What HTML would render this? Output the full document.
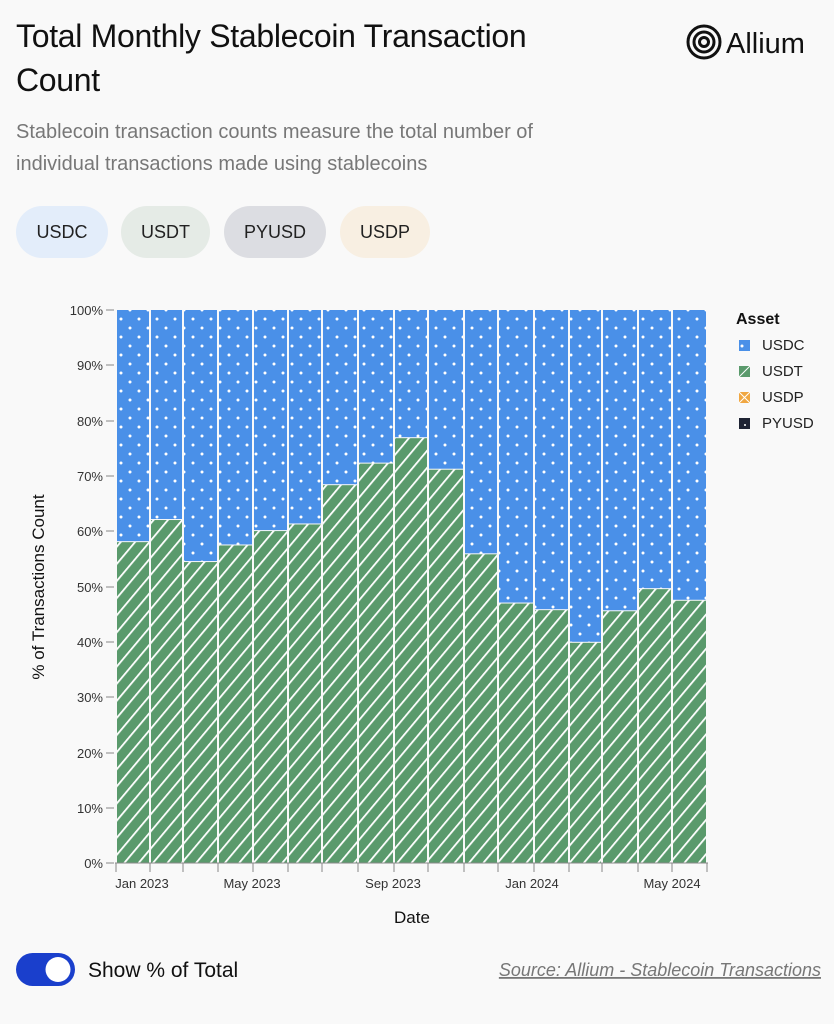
<!DOCTYPE html>
<html><head><meta charset="utf-8"><style>
body{margin:0;width:834px;height:1024px;background:#f9f9f9;font-family:"Liberation Sans",sans-serif;position:relative;overflow:hidden}
.t{position:absolute;left:16px;top:14px;font-size:32px;line-height:44px;color:#111;width:560px;letter-spacing:-0.3px}
.s{position:absolute;left:16px;top:116px;font-size:20px;line-height:32px;color:#777;width:600px}
.chip{position:absolute;top:206px;height:52px;border-radius:26px;font-size:18px;line-height:52px;text-align:center;color:#222}
.logo{position:absolute;left:686px;top:22px}
</style></head><body>
<div class="t">Total Monthly Stablecoin Transaction Count</div>
<div class="logo"><svg width="140" height="40"><g fill="none" stroke="#111" stroke-width="3"><circle cx="18" cy="20" r="16"/><circle cx="18" cy="20" r="10"/><circle cx="18" cy="20" r="4.5"/></g><text x="40" y="31" font-size="29" font-family="Liberation Sans" fill="#111">Allium</text></svg></div>
<div class="s">Stablecoin transaction counts measure the total number of individual transactions made using stablecoins</div>
<div class="chip" style="left:16px;width:92px;background:#e3edfa">USDC</div>
<div class="chip" style="left:121px;width:89px;background:#e5ebe6">USDT</div>
<div class="chip" style="left:224px;width:102px;background:#dcdde2">PYUSD</div>
<div class="chip" style="left:340px;width:90px;background:#f8efe2">USDP</div>
<svg width="834" height="1024" style="position:absolute;left:0;top:0" font-family="Liberation Sans">
<defs>
<pattern id="dots" width="18" height="18" patternUnits="userSpaceOnUse"><rect width="18" height="18" fill="#4a90e8"/><circle cx="4" cy="4" r="1.5" fill="#fff"/><circle cx="13" cy="13" r="1.5" fill="#fff"/></pattern>
<pattern id="hatch" width="11" height="11" patternUnits="userSpaceOnUse" patternTransform="rotate(40)"><rect width="11" height="11" fill="#5a9a6c"/><rect width="1.8" height="11" fill="#fff"/></pattern>
</defs>
<g id="bars"></g>
<g font-size="13" fill="#333" text-anchor="end">
<text x="103" y="315">100%</text><text x="103" y="370">90%</text><text x="103" y="426">80%</text><text x="103" y="481">70%</text><text x="103" y="536">60%</text><text x="103" y="592">50%</text><text x="103" y="647">40%</text><text x="103" y="702">30%</text><text x="103" y="758">20%</text><text x="103" y="813">10%</text><text x="103" y="868">0%</text>
</g>
<g stroke="#888" stroke-width="1"><path d="M106 310h8M106 365h8M106 421h8M106 476h8M106 531h8M106 587h8M106 642h8M106 697h8M106 753h8M106 808h8M106 863h8"/><path d="M115 863H708"/><path id="xt" d=""/></g>
<g font-size="13" fill="#333" text-anchor="middle"><text x="142" y="888">Jan 2023</text><text x="252" y="888">May 2023</text><text x="393" y="888">Sep 2023</text><text x="532" y="888">Jan 2024</text><text x="672" y="888">May 2024</text></g>
<text x="412" y="923" font-size="17" text-anchor="middle" fill="#111">Date</text>
<text transform="translate(44 587) rotate(-90)" font-size="17" text-anchor="middle" fill="#111">% of Transactions Count</text>
<text x="736" y="324" font-size="16" font-weight="bold" fill="#111">Asset</text>
<rect x="739" y="340" width="11" height="11" fill="url(#dots)"/><text x="762" y="350" font-size="15" fill="#222">USDC</text>
<rect x="739" y="366" width="11" height="11" fill="#5a9a6c"/><path d="M739 377L750 366" stroke="#fff"/><text x="762" y="376" font-size="15" fill="#222">USDT</text>
<rect x="739" y="392" width="11" height="11" fill="#f0a742"/><path d="M739 392L750 403M750 392L739 403" stroke="#fff"/><text x="762" y="402" font-size="15" fill="#222">USDP</text>
<rect x="739" y="418" width="11" height="11" fill="#1e2333"/><circle cx="745" cy="425" r="1" fill="#fff"/><text x="762" y="428" font-size="15" fill="#222">PYUSD</text>
<rect x="16" y="953" width="59" height="33" rx="16.5" fill="#1a3fcc"/><circle cx="58" cy="969.5" r="12.5" fill="#fff"/>
<text x="88" y="977" font-size="21" fill="#111">Show % of Total</text>
<text x="821" y="976" font-size="18" font-style="italic" fill="#777" text-anchor="end" text-decoration="underline">Source: Allium - Stablecoin Transactions</text>
</svg>
<script>
var e=[116,150,183,218,253,288,322,358,394,428,464,498,534,569,602,638,672,707];
var p=[58.2,62.2,54.6,57.6,60.2,61.4,68.5,72.4,77,71.3,56,47.1,45.9,40,45.7,49.7,47.6];
var s='',t='';
for(var i=0;i<17;i++){var x=e[i]+1,w=e[i+1]-e[i]-2,y=863-5.53*p[i];
s+='<rect x="'+x+'" y="310" width="'+w+'" height="'+(y-310)+'" fill="url(#dots)"/>';
s+='<rect x="'+x+'" y="'+(y+1)+'" width="'+w+'" height="'+(862-y)+'" fill="url(#hatch)"/>';}
for(var j=0;j<e.length;j++)t+='M'+e[j]+' 863v9';
document.getElementById('bars').innerHTML=s;
document.getElementById('xt').setAttribute('d',t);
</script>
</body></html>
